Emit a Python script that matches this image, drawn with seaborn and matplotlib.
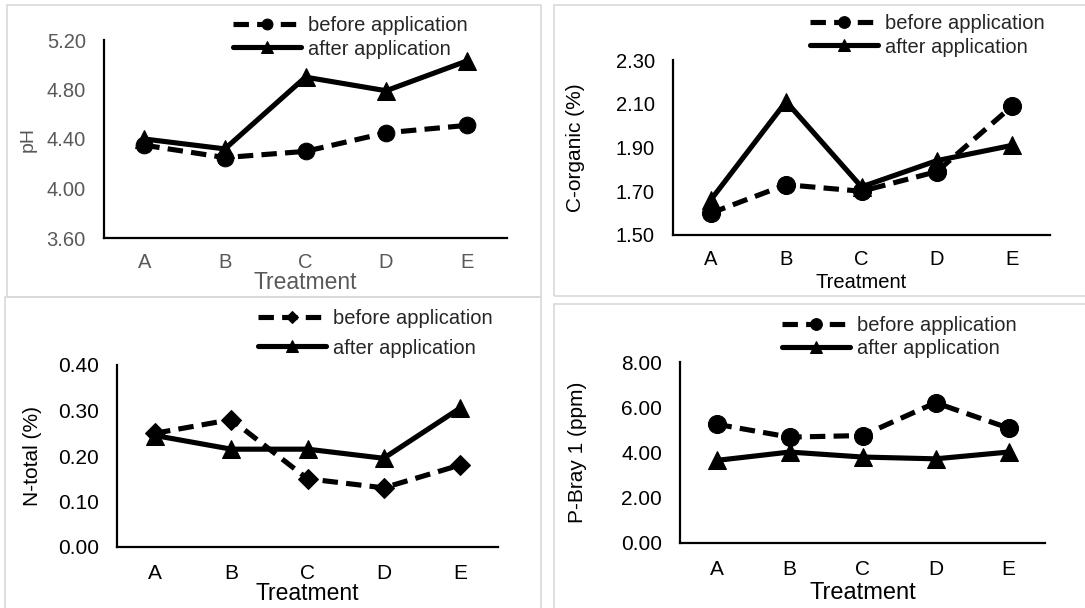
import pandas as pd
import matplotlib.pyplot as plt
import matplotlib.patches as patches
import seaborn as sns

# data
treatments = ['A', 'B', 'C', 'D', 'E']

ph_before = [4.35, 4.25, 4.30, 4.45, 4.51]
ph_after = [4.40, 4.32, 4.90, 4.79, 5.03]

corg_before = [1.60, 1.73, 1.70, 1.79, 2.09]
corg_after = [1.66, 2.11, 1.72, 1.84, 1.91]

ntot_before = [0.25, 0.28, 0.15, 0.13, 0.18]
ntot_after = [0.245, 0.215, 0.215, 0.195, 0.305]

pbray_before = [5.25, 4.68, 4.75, 6.20, 5.08]
pbray_after = [3.65, 4.02, 3.80, 3.72, 4.02]

sns.set_theme(style='white')
plt.rcParams['font.family'] = ['Liberation Sans', 'DejaVu Sans']

W, H = 1085, 608
fig = plt.figure(figsize=(W / 100, H / 100), dpi=100)


def px_box(x0, y0, x1, y1):
    return [x0 / W, 1 - y1 / H, (x1 - x0) / W, (y1 - y0) / H]


# light grey frames around each panel (pixel coords)
frames = [(7, 5, 541, 297), (554, 5, 1095, 296), (5, 297, 541, 620), (554, 304, 1095, 620)]
for x0, y0, x1, y1 in frames:
    fig.patches.append(patches.Rectangle((x0 / W, 1 - y1 / H), (x1 - x0) / W, (y1 - y0) / H,
                                         transform=fig.transFigure, fill=False,
                                         edgecolor='#d9d9d9', linewidth=1.2))

panels = [
    dict(box=(104, 40, 507, 238), before=ph_before, after=ph_after, ylabel='pH',
         ylim=(3.6, 5.2), ticks=[3.6, 4.0, 4.4, 4.8, 5.2], marker='o', bsize=12,
         color='#595959', ticksize=14.5, ylsize=14, xlsize=16.5, xpad=11, ylx=-0.166, xly=-0.168,
         leg=(233, 37.5), lspace=0.2),
    dict(box=(673, 60, 1050, 235), before=corg_before, after=corg_after, ylabel='C-organic (%)',
         ylim=(1.5, 2.3), ticks=[1.5, 1.7, 1.9, 2.1, 2.3], marker='o', bsize=13,
         color='black', ticksize=14.5, ylsize=15, xlsize=14.5, xpad=11, ylx=-0.233, xly=-0.215,
         leg=(810, 35.5), lspace=0.2),
    dict(box=(117, 365, 498, 547), before=ntot_before, after=ntot_after, ylabel='N-total (%)',
         ylim=(0.0, 0.4), ticks=[0.0, 0.1, 0.2, 0.3, 0.4], marker='D', bsize=10,
         color='black', ticksize=15, ylsize=15, xlsize=16.5, xpad=12.5, ylx=-0.197, xly=-0.19,
         leg=(258, 333.5), lspace=0.5),
    dict(box=(680, 362, 1045, 543), before=pbray_before, after=pbray_after, ylabel='P-Bray 1 (ppm)',
         ylim=(0.0, 8.0), ticks=[0, 2, 4, 6, 8], marker='o', bsize=13,
         color='black', ticksize=15, ylsize=15, xlsize=17, xpad=12, ylx=-0.255, xly=-0.215,
         leg=(782, 337), lspace=0.2),
]

for p in panels:
    ax = fig.add_axes(px_box(*p['box']))
    df = pd.DataFrame({'Treatment': treatments, 'before': p['before'], 'after': p['after']})

    sns.lineplot(data=df, x='Treatment', y='before', ax=ax, color='black', linewidth=3.7,
                 linestyle=(0, (3, 1.6)), marker=p['marker'], markersize=p['bsize'],
                 markeredgecolor='black', label='before application', sort=False)
    sns.lineplot(data=df, x='Treatment', y='after', ax=ax, color='black', linewidth=3.7,
                 marker='^', markersize=13, markeredgecolor='black',
                 label='after application', sort=False)

    ax.set_xlim(-0.5, 4.5)
    ax.set_ylim(*p['ylim'])
    ax.set_yticks(p['ticks'])
    ax.set_yticklabels([f'{t:.2f}' for t in p['ticks']])

    for side in ['top', 'right']:
        ax.spines[side].set_visible(False)
    for side in ['left', 'bottom']:
        ax.spines[side].set_color('black')
        ax.spines[side].set_linewidth(1.6)
    ax.tick_params(axis='both', length=0, labelsize=p['ticksize'], labelcolor=p['color'])
    ax.tick_params(axis='x', pad=p['xpad'])
    ax.tick_params(axis='y', pad=13)

    ax.set_xlabel('Treatment', fontsize=p['xlsize'], color=p['color'])
    ax.set_ylabel(p['ylabel'], fontsize=p['ylsize'], color=p['color'])
    ax.xaxis.set_label_coords(0.5, p['xly'])
    ax.yaxis.set_label_coords(p['ylx'], 0.5)

    lx, ly = p['leg']
    ax.legend(loc='center left', bbox_to_anchor=(lx / W, 1 - ly / H),
              bbox_transform=fig.transFigure, frameon=False, fontsize=14.5,
              borderpad=0, borderaxespad=0, handlelength=3.4, handletextpad=0.3,
              labelspacing=p['lspace'], markerscale=0.65)

plt.savefig('out.png', dpi=100)
